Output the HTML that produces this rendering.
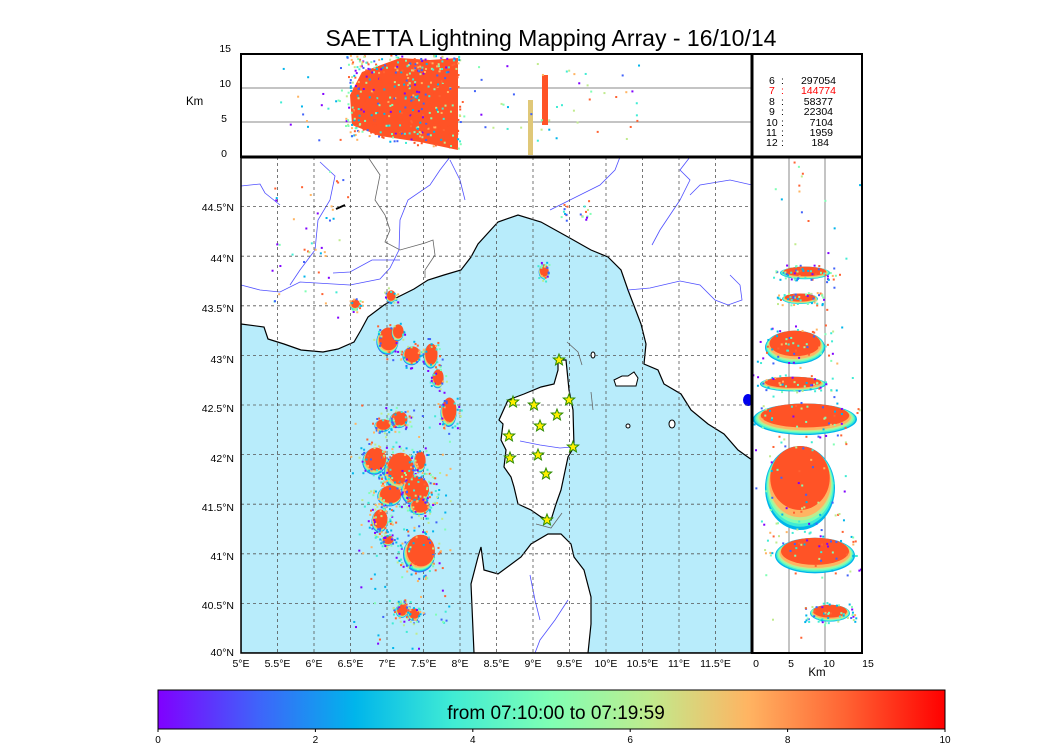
<!DOCTYPE html>
<html><head><meta charset="utf-8"><style>
body{margin:0;background:#fff;width:1050px;height:750px;overflow:hidden;font-family:"Liberation Sans",sans-serif}
svg{position:absolute;left:0;top:0}
</style></head><body>
<svg width="1050" height="750" viewBox="0 0 1050 750" xmlns="http://www.w3.org/2000/svg" font-family="Liberation Sans, sans-serif">
<defs>
<linearGradient id="rb" x1="0" x2="1" y1="0" y2="0">
<stop offset="0" stop-color="#8000ff"/><stop offset="0.125" stop-color="#4062fa"/><stop offset="0.25" stop-color="#00b5eb"/><stop offset="0.375" stop-color="#40ecd4"/><stop offset="0.5" stop-color="#80ffb4"/><stop offset="0.625" stop-color="#c0eb8d"/><stop offset="0.75" stop-color="#ffb462"/><stop offset="0.875" stop-color="#ff6232"/><stop offset="1" stop-color="#ff0000"/>
</linearGradient>
<clipPath id="mc"><rect x="241" y="157" width="511" height="496"/></clipPath>
<clipPath id="tc"><rect x="241" y="54" width="511" height="103"/></clipPath>
<clipPath id="rc"><rect x="752" y="157" width="110" height="496"/></clipPath>
</defs>
<text x="551" y="46" font-size="23" text-anchor="middle">SAETTA Lightning Mapping Array - 16/10/14</text>

<g clip-path="url(#mc)">
<rect x="241" y="157" width="511" height="496" fill="#fff"/>
<polygon fill="#b8ecfb" stroke="#000" stroke-width="1.2" points="241,324 264,327 268,339 284,344 301,350 323,352 338,349 354,342 361,330 368,317 384,305 398,297 414,289 428,280 444,275 461,270 471,257 478,244 498,222 518,215 541,222 568,237 591,250 608,257 621,270 628,290 641,324 646,344 644,364 658,370 664,384 681,394 691,410 708,424 724,434 738,450 752,460 752,653 241,653"/>
<polygon fill="#fff" stroke="#000" stroke-width="1.2" points="558,360 566,360 569,390 573,410 574,447 568,457 561,490 556,504 551,520 541,517 531,510 518,504 514,487 511,477 504,467 506,450 501,440 503,424 499,420 508,400 524,394 541,387 554,384 558,370"/>
<polygon fill="#fff" stroke="#000" stroke-width="1.2" points="474,653 471,584 478,557 481,547 484,570 498,574 521,557 531,544 548,534 561,534 571,544 574,557 584,570 591,597 591,624 588,653"/>
<polygon fill="#fff" stroke="#000" points="614,380 622,376 628,376 634,372 638,378 636,386 626,386 616,386"/>
<ellipse cx="593" cy="355" rx="2" ry="3" fill="#fff" stroke="#000"/>
<ellipse cx="628" cy="426" rx="2" ry="2" fill="#fff" stroke="#000"/>
<ellipse cx="672" cy="424" rx="3" ry="4" fill="#fff" stroke="#000"/>
<ellipse cx="748" cy="400" rx="5" ry="6" fill="#0000ee"/>
<path d="M336 209 L345 205" stroke="#000" stroke-width="2"/>
<g fill="none" stroke="#5050ff" stroke-width="0.8">
<path d="M241 186 L260 184 L265 193 L280 205"/>
<path d="M241 285 L260 290 L280 292 L300 282 L350 285 L380 279 L390 268 L399 250 L400 220 L408 200 L430 185 L440 170 L450 157"/>
<path d="M400 260 L372 260 L350 272 L333 273"/>
<path d="M320 162 L335 176 L330 200 L318 220 L315 250 L300 270 L290 285"/>
<path d="M690 157 L680 170 L690 180 L680 200 L660 230 L652 245"/>
<path d="M752 185 L730 180 L700 185 L690 195"/>
<path d="M628 290 L650 288 L680 281 L700 285 L715 300 L728 305 L742 300 L740 285 L730 275"/>
<path d="M550 210 L580 195 L600 185 L615 170 L620 157"/>
<path d="M520 441 L540 445 L560 448 L572 447"/>
<path d="M530 575 L535 600 L540 620"/>
<path d="M568 600 L555 620 L540 640 L535 653"/>
<path d="M450 160 L460 180 L465 200"/>
</g>
<g fill="none" stroke="#666" stroke-width="0.8">
<path d="M368 157 L380 175 L375 200 L385 215 L390 230 L385 242 L400 250 L425 243 L433 240 L435 255 L425 270 L425 278"/>
<path d="M567 342 L578 352 L582 365"/>
<path d="M591 392 L593 410"/>
<path d="M536 524 L551 528 L562 513"/>
</g>
<g stroke="#555" stroke-width="0.8" stroke-dasharray="3,3">
<path d="M277.5 157V653M314 157V653M350.5 157V653M387 157V653M423.5 157V653M460 157V653M496.5 157V653M533 157V653M569.5 157V653M606 157V653M642.5 157V653M679 157V653M715.5 157V653"/>
<path d="M241 603.4H752M241 553.8H752M241 504.2H752M241 454.6H752M241 405H752M241 355.4H752M241 305.8H752M241 256.2H752M241 206.6H752"/>
</g>
<g id="map-storms"></g>
<g fill="#ffee00" stroke="#2a8a00" stroke-width="1" id="stars"></g>
</g>
<rect x="241" y="157" width="511" height="496" fill="none" stroke="#000" stroke-width="1.5"/>

<g clip-path="url(#tc)">
<path d="M241 88H752M241 122H752" stroke="#888" stroke-width="1"/>
<g id="top-storms"></g>
</g>
<rect x="241" y="54" width="511" height="103" fill="none" stroke="#000" stroke-width="2"/>

<g clip-path="url(#rc)">
<path d="M789 157V653M825 157V653" stroke="#888" stroke-width="1"/>
<g id="right-storms"></g>
</g>
<rect x="752" y="157" width="110" height="496" fill="none" stroke="#000" stroke-width="2"/>
<rect x="752" y="54" width="110" height="103" fill="none" stroke="#000" stroke-width="2"/>
<line x1="752" y1="54" x2="752" y2="653" stroke="#000" stroke-width="3"/>
<line x1="241" y1="157" x2="862" y2="157" stroke="#000" stroke-width="3"/>

<g font-size="10.5">
<text x="769" y="84">6</text><text x="781" y="84">:</text><text x="836" y="84" text-anchor="end">297054</text>
<text x="769" y="94" fill="#ff0000">7</text><text x="781" y="94" fill="#ff0000">:</text><text x="836" y="94" text-anchor="end" fill="#ff0000">144774</text>
<text x="769" y="105">8</text><text x="781" y="105">:</text><text x="833" y="105" text-anchor="end">58377</text>
<text x="769" y="115">9</text><text x="781" y="115">:</text><text x="833" y="115" text-anchor="end">22304</text>
<text x="766" y="126">10</text><text x="781" y="126">:</text><text x="833" y="126" text-anchor="end">7104</text>
<text x="766" y="136">11</text><text x="781" y="136">:</text><text x="833" y="136" text-anchor="end">1959</text>
<text x="766" y="146">12</text><text x="781" y="146">:</text><text x="829" y="146" text-anchor="end">184</text>
</g>

<g font-size="10.5" text-anchor="end">
<text x="231" y="52">15</text><text x="231" y="87">10</text><text x="227" y="122">5</text><text x="227" y="157">0</text>
<text x="234" y="211">44.5°N</text><text x="234" y="262">44°N</text><text x="234" y="312">43.5°N</text><text x="234" y="363">43°N</text><text x="234" y="412">42.5°N</text><text x="234" y="462">42°N</text><text x="234" y="511">41.5°N</text><text x="234" y="560">41°N</text><text x="234" y="609">40.5°N</text><text x="234" y="656">40°N</text>
</g>
<text x="186" y="105" font-size="11.5">Km</text>
<g font-size="10.5" text-anchor="middle">
<text x="241" y="667">5°E</text><text x="277.5" y="667">5.5°E</text><text x="314" y="667">6°E</text><text x="350.5" y="667">6.5°E</text><text x="387" y="667">7°E</text><text x="423.5" y="667">7.5°E</text><text x="460" y="667">8°E</text><text x="496.5" y="667">8.5°E</text><text x="533" y="667">9°E</text><text x="569.5" y="667">9.5°E</text><text x="606" y="667">10°E</text><text x="642.5" y="667">10.5°E</text><text x="679" y="667">11°E</text><text x="715.5" y="667">11.5°E</text>
<text x="756" y="667">0</text><text x="791" y="667">5</text><text x="829" y="667">10</text><text x="868" y="667">15</text>
</g>
<text x="817" y="676" font-size="11.5" text-anchor="middle">Km</text>

<rect x="158" y="690" width="787" height="39" fill="url(#rb)" stroke="#000" stroke-width="1"/>
<text x="556" y="719" font-size="19" text-anchor="middle">from 07:10:00 to 07:19:59</text>
<g font-size="10" text-anchor="middle">
<text x="158" y="743">0</text><text x="315.4" y="743">2</text><text x="472.8" y="743">4</text><text x="630.2" y="743">6</text><text x="787.6" y="743">8</text><text x="945" y="743">10</text>
</g>
<g stroke="#000"><path d="M158 729v3M315.4 729v3M472.8 729v3M630.2 729v3M787.6 729v3M945 729v3"/></g>
</svg>
<script>
(function(){
var s=12345;function r(){s=(s*16807)%2147483647;return s/2147483647;}
var cols=["#8000ff","#4062fa","#00b5eb","#40ecd4","#80ffb4","#c0eb8d","#ffb462","#ff6232"];
var NS="http://www.w3.org/2000/svg";
function el(p,t,a){var e=document.createElementNS(NS,t);for(var k in a)e.setAttribute(k,a[k]);p.appendChild(e);return e;}
function storm(g,cx,cy,rx,ry,n){
 for(var i=0;i<6;i++){el(g,"ellipse",{cx:cx-rx*0.06*(6-i)/6,cy:cy+ry*0.14*(6-i)/6,rx:rx*(1.0-i*0.02),ry:ry*(1.0-i*0.03),fill:cols[i+1]});}
 el(g,"ellipse",{cx:cx+rx*0.05,cy:cy-ry*0.08,rx:rx*0.88,ry:ry*0.88,fill:"#ff5326"});
 for(var j=0;j<n;j++){var a=r()*6.283,d=0.7+r()*0.9;el(g,"rect",{x:cx+Math.cos(a)*rx*d,y:cy+Math.sin(a)*ry*d,width:2,height:2,fill:cols[Math.floor(r()*8)]});}
}
var m=document.getElementById("map-storms");
[[388,340,11,13,30],[398,332,6,8,5],[412,355,9,9,25],[431,355,7,12,25],[438,378,6,9,20],[449,411,8,14,30],[399,419,9,8,30],[383,425,8,6,25],[375,460,12,13,50],[400,470,15,18,60],[416,490,14,14,60],[390,495,12,10,40],[420,461,6,10,20],[420,506,10,8,40],[380,520,8,11,50],[388,540,6,5,20],[420,552,16,18,60],[402,610,6,7,40],[414,614,6,6,30],[544,271,5,7,20],[355,304,5,5,20],[391,296,5,6,15]].forEach(function(c){storm(m,c[0],c[1],c[2],c[3],c[4]);});
for(var k=0;k<140;k++){var x=350+r()*100,y=400+r()*250;el(m,"rect",{x:x,y:y,width:2,height:2,fill:cols[Math.floor(r()*8)]});}
for(var k=0;k<45;k++){var x=270+r()*80,y=160+r()*160;el(m,"rect",{x:x,y:y,width:2,height:2,fill:cols[Math.floor(r()*8)]});}
for(var k=0;k<20;k++){var x=560+r()*30,y=200+r()*20;el(m,"rect",{x:x,y:y,width:2,height:2,fill:cols[Math.floor(r()*8)]});}
var st=document.getElementById("stars");
function star(x,y){var p=[];for(var i=0;i<10;i++){var a=-Math.PI/2+i*Math.PI/5,rr=i%2?2.6:6;p.push((x+rr*Math.cos(a)).toFixed(1)+","+(y+rr*Math.sin(a)).toFixed(1));}el(st,"polygon",{points:p.join(" ")});}
[[559,360],[513,402],[534,405],[569,400],[557,415],[540,426],[509,436],[573,447],[510,458],[538,455],[546,474],[547,520]].forEach(function(p){star(p[0],p[1]);});
var t=document.getElementById("top-storms");
el(t,"polygon",{points:"350,95 362,72 400,58 430,60 458,58 458,150 420,142 380,136 352,125",fill:"#ff5326"});
for(var k=0;k<500;k++){var x=345+r()*115,y=54+r()*(135+(x-345)/115*15-54);var c=(y<72||x<362)?cols[Math.floor(r()*8)]:(r()<0.6?"#ff5326":cols[Math.floor(r()*8)]);el(t,"rect",{x:x,y:y,width:2,height:2,fill:c});}
el(t,"rect",{x:528,y:100,width:5,height:55,fill:"#e0c878"});
el(t,"rect",{x:542,y:75,width:6,height:50,fill:"#ff5326"});
for(var k=0;k<90;k++){var x=275+r()*370,y=60+r()*80;el(t,"rect",{x:x,y:y,width:2,height:2,fill:cols[Math.floor(r()*8)]});}
var rg=document.getElementById("right-storms");
[[805,272,25,6],[800,298,18,5],[795,345,30,16],[793,383,33,7],[805,417,52,15],[800,482,35,40],[815,553,40,17],[830,612,20,8]].forEach(function(b){
 for(var i=0;i<5;i++)el(rg,"ellipse",{cx:b[0],cy:b[1]+b[3]*0.15*(5-i)/5,rx:b[2]*(1.0-i*0.03),ry:b[3]*(1.05-i*0.05),fill:cols[i+2]});
 el(rg,"ellipse",{cx:b[0],cy:b[1]-b[3]*0.1,rx:b[2]*0.85,ry:b[3]*0.8,fill:"#ff5326"});
 for(var j=0;j<50;j++){el(rg,"rect",{x:b[0]+(r()*2-1)*b[2]*1.3,y:b[1]+(r()*2-1)*b[3]*1.3,width:2,height:2,fill:cols[Math.floor(r()*8)]});}
});
for(var k=0;k<60;k++){el(rg,"rect",{x:770+r()*90,y:160+r()*480,width:2,height:2,fill:cols[Math.floor(r()*8)]});}
})();
</script>
</body></html>
